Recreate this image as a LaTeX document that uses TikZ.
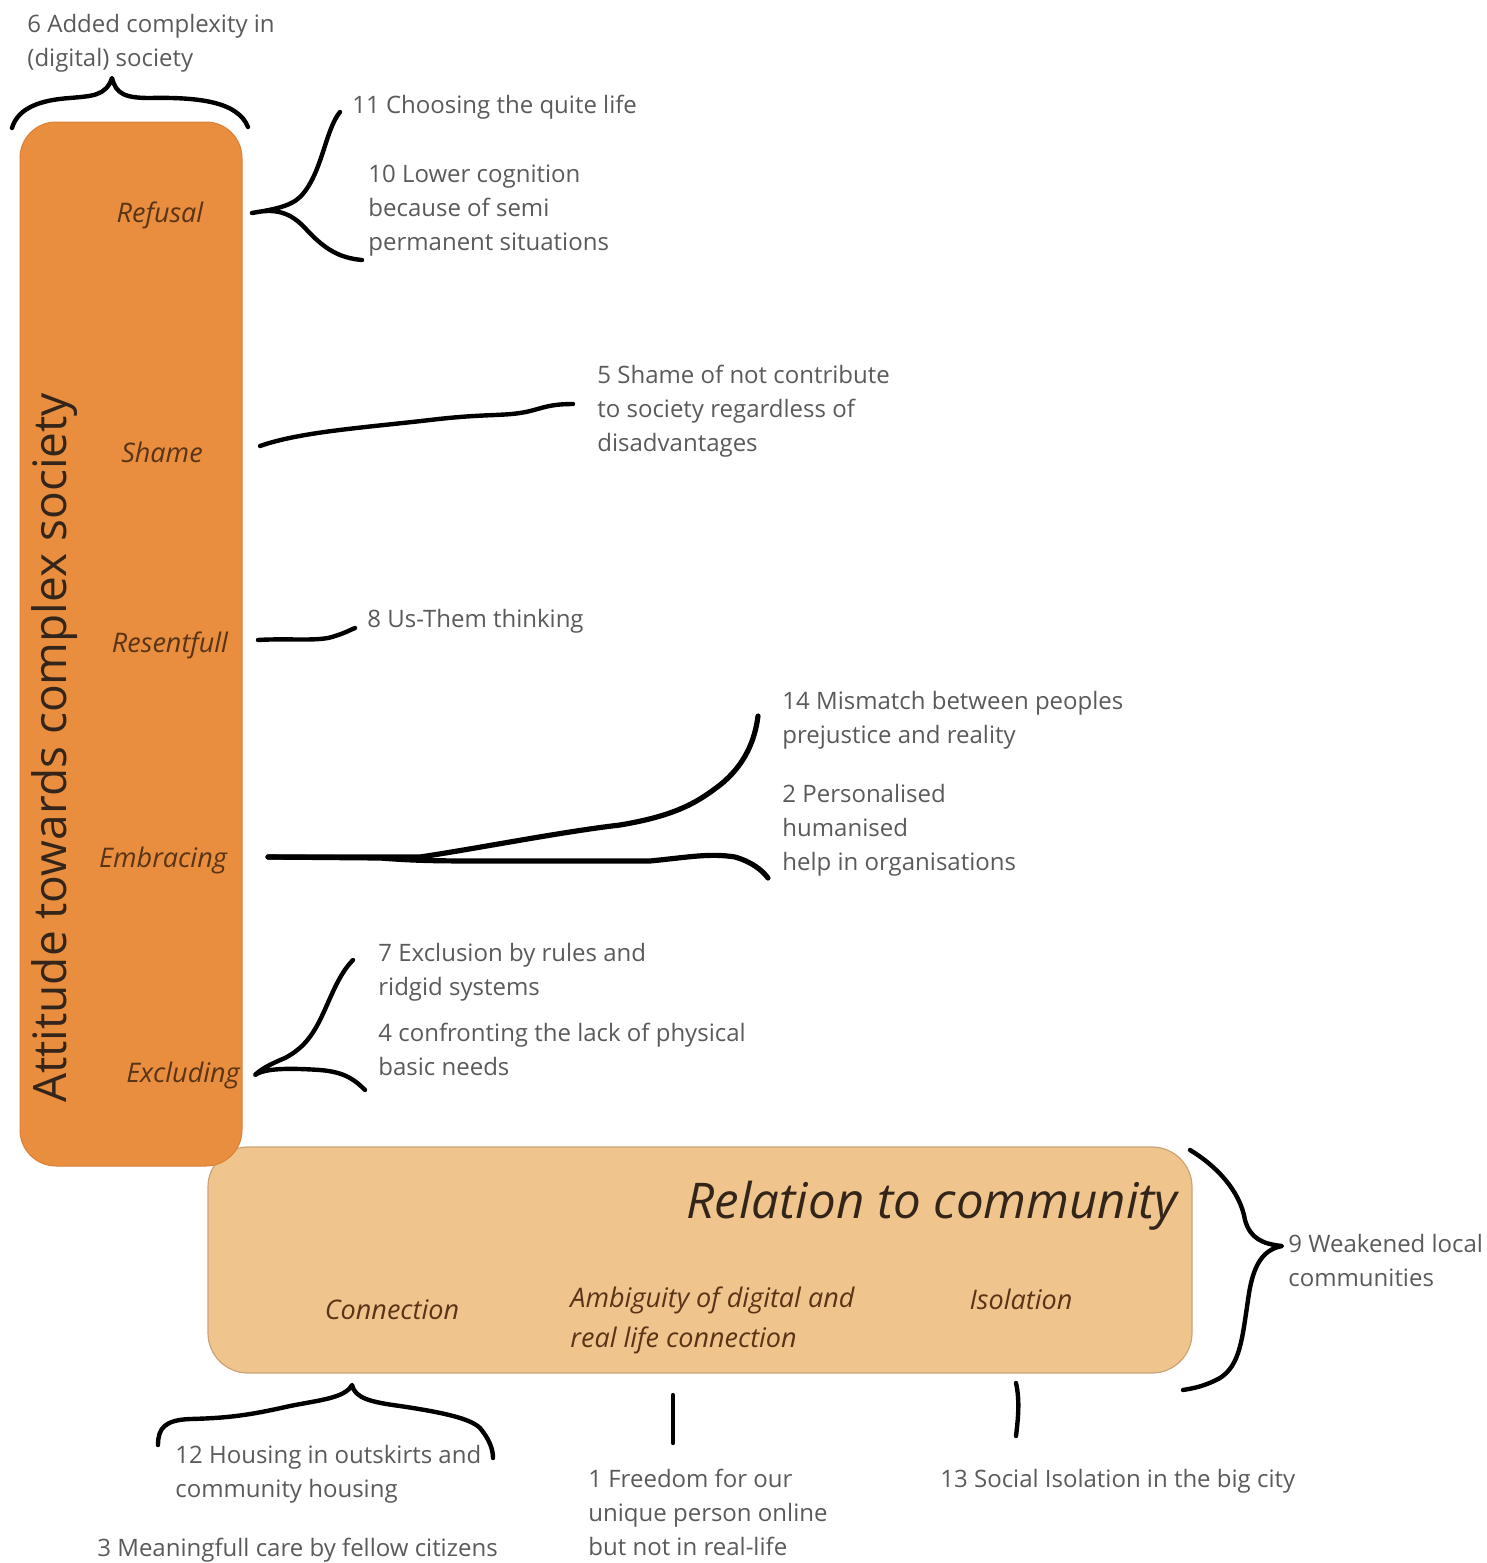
\documentclass[tikz,border=0pt]{standalone}
\usepackage{fontspec}
\setmainfont{Open Sans}
\definecolor{barorange}{HTML}{E88E3E}
\definecolor{baredge}{HTML}{D9813A}
\definecolor{boxtan}{HTML}{F0C58D}
\definecolor{boxedge}{HTML}{C9A478}
\definecolor{notegray}{HTML}{5A5A5A}
\definecolor{labelbrown}{HTML}{5A3417}
\definecolor{titledark}{HTML}{33251A}
\begin{document}
\begin{tikzpicture}[x=0.5pt,y=-0.5pt,
  note/.style={font=\fontsize{12}{17}\selectfont, text=notegray, align=left, anchor=north west, inner sep=0pt},
  facet/.style={font=\fontsize{13.5}{20}\selectfont\itshape, text=labelbrown, inner sep=0pt},
  brace/.style={draw=black, line width=2.2pt, line cap=round, line join=round}]

\useasboundingbox (0,0) rectangle (1487,1563);

% the two theme boxes
\node[fill=boxtan, draw=boxedge, line width=0.6pt, rounded corners=20pt, minimum width=492pt, minimum height=113pt, inner sep=0pt] (community) at (700,1260) {};
\node[fill=barorange, draw=baredge, line width=0.5pt, rounded corners=18pt, minimum width=111pt, minimum height=522pt, inner sep=0pt] (bar) at (131,644) {};

% theme titles
\node[rotate=90, font=\fontsize{23}{28}\selectfont, text=titledark, inner sep=0pt] (title) at (55,748) {Attitude towards complex society};
\node[anchor=east, font=\fontsize{24.6}{28}\selectfont\itshape, text=titledark, inner sep=0pt] (reltitle) at (1178,1206) {Relation to community};

% facets of the attitude bar
\node[facet] (refusal) at (160,215) {Refusal};
\node[facet] (shame) at (162,452) {Shame};
\node[facet] (resent) at (170,645) {Resentfull};
\node[facet] (embrace) at (163,860) {Embracing};
\node[facet] (exclude) at (183,1075) {Excluding};

% facets of the community box
\node[facet] (connection) at (392,1310) {Connection};
\node[facet, anchor=north west, align=left] (ambiguity) at (570,1286) {Ambiguity of digital and\\real life connection};
\node[facet] (isolation) at (1021,1299) {Isolation};

% numbered findings
\node[note] (n6) at (27,14) {6 Added complexity in\\(digital) society};
\node[note] (n11) at (352,95) {11 Choosing the quite life};
\node[note] (n10) at (368,164) {10 Lower cognition\\because of semi\\permanent situations};
\node[note] (n5) at (597,365) {5 Shame of not contribute\\to society regardless of\\disadvantages};
\node[note] (n8) at (367,609) {8 Us-Them thinking};
\node[note] (n14) at (782,691) {14 Mismatch between peoples\\prejustice and reality};
\node[note] (n2) at (782,784) {2 Personalised\\humanised\\help in organisations};
\node[note] (n7) at (378,943) {7 Exclusion by rules and\\ridgid systems};
\node[note] (n4) at (378,1023) {4 confronting the lack of physical\\basic needs};
\node[note] (n9) at (1288,1234) {9 Weakened local\\communities};
\node[note] (n12) at (175,1445) {12 Housing in outskirts and\\community housing};
\node[note] (n3) at (97,1538) {3 Meaningfull care by fellow citizens};
\node[note] (n1) at (588,1469) {1 Freedom for our\\unique person online\\but not in real-life};
\node[note] (n13) at (940,1469) {13 Social Isolation in the big city};

% brace ends
\coordinate (b6l) at (12,128);
\coordinate (b6t) at (112,78);
\coordinate (b6r) at (248,127);
\coordinate (rfa) at (340,112);
\coordinate (rft) at (252,213);
\coordinate (rfb) at (362,260);
\coordinate (sha) at (260,446);
\coordinate (shb) at (573,404);
\coordinate (rsa) at (258,640);
\coordinate (rsb) at (355,628);
\coordinate (ema) at (268,857);
\coordinate (emu) at (758,716);
\coordinate (eml) at (768,878);
\coordinate (exu) at (353,960);
\coordinate (ext) at (255,1075);
\coordinate (exl) at (365,1090);
\coordinate (c9a) at (1190,1150);
\coordinate (c9t) at (1282,1246);
\coordinate (c9b) at (1183,1390);
\coordinate (c12l) at (158,1445);
\coordinate (c12t) at (352,1385);
\coordinate (c12r) at (493,1458);
\coordinate (c1a) at (673,1395);
\coordinate (c1b) at (673,1443);
\coordinate (c13a) at (1016,1383);
\coordinate (c13b) at (1016,1436);

% hand-drawn braces and strokes
\draw[brace] (b6l) .. controls (18,108) and (40,100) .. (70,98)
  .. controls (92,96) and (106,96) .. (b6t)
  .. controls (116,94) and (125,98) .. (150,98)
  .. controls (200,97) and (238,102) .. (b6r);
\draw[brace] (rfa) .. controls (325,130) and (322,175) .. (300,197)
  .. controls (290,207) and (270,210) .. (rft)
  .. controls (275,208) and (290,212) .. (305,228)
  .. controls (325,250) and (340,258) .. (rfb);
\draw[brace] (sha) .. controls (300,432) and (360,428) .. (430,420)
  .. controls (480,414) and (500,416) .. (520,413)
  .. controls (540,410) and (545,404) .. (shb);
\draw[brace] (rsa) .. controls (290,638) and (320,642) .. (335,636)
  .. controls (345,633) and (350,630) .. (rsb);
\draw[brace, line width=2.6pt] (ema) -- (420,857)
  .. controls (480,848) and (560,832) .. (620,825)
  .. controls (680,815) and (700,800) .. (720,785)
  .. controls (745,765) and (755,740) .. (emu);
\draw[brace, line width=2.6pt] (ema) -- (380,858)
  .. controls (420,861) and (440,861) .. (500,861) -- (650,861)
  .. controls (690,857) and (710,853) .. (735,857)
  .. controls (752,862) and (762,870) .. (eml);
\draw[brace] (exu) .. controls (338,975) and (330,1000) .. (320,1020)
  .. controls (310,1040) and (300,1050) .. (285,1058)
  .. controls (268,1065) and (260,1070) .. (ext)
  .. controls (265,1068) and (290,1068) .. (320,1070)
  .. controls (345,1072) and (355,1080) .. (exl);
\draw[brace] (c9a) .. controls (1215,1165) and (1240,1190) .. (1245,1220)
  .. controls (1250,1238) and (1262,1244) .. (c9t)
  .. controls (1260,1250) and (1252,1270) .. (1248,1300)
  .. controls (1242,1340) and (1240,1365) .. (1220,1378)
  .. controls (1205,1386) and (1195,1388) .. (c9b);
\draw[brace] (c12l) .. controls (158,1428) and (165,1420) .. (190,1419)
  .. controls (230,1418) and (250,1415) .. (290,1406)
  .. controls (320,1400) and (345,1398) .. (c12t)
  .. controls (355,1398) and (370,1402) .. (400,1406)
  .. controls (440,1412) and (470,1418) .. (480,1428)
  .. controls (490,1440) and (493,1450) .. (c12r);
\draw[brace] (c1a) -- (c1b);
\draw[brace] (c13a) .. controls (1020,1400) and (1018,1420) .. (c13b);
\end{tikzpicture}
\end{document}
